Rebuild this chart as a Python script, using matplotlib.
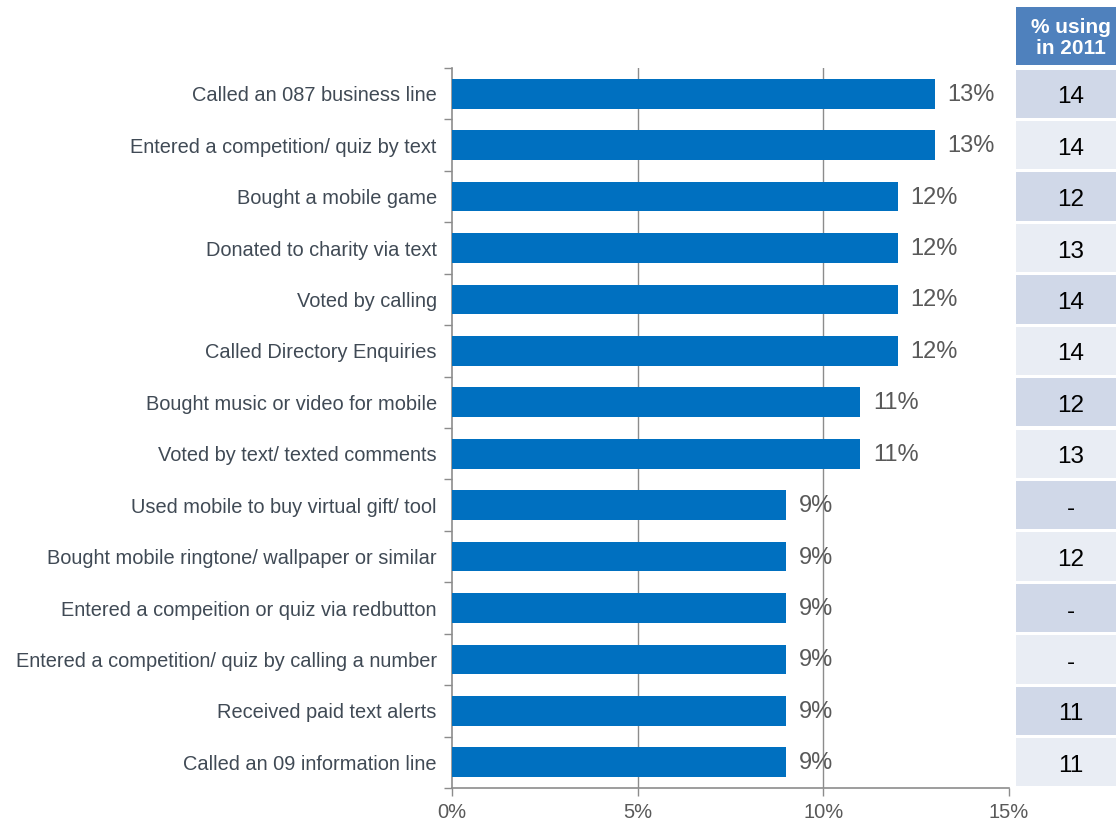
import numpy as np
import matplotlib.pyplot as plt
from matplotlib.patches import Rectangle

plt.rcParams['font.family'] = ['Liberation Sans', 'DejaVu Sans']

categories = [
    'Called an 087 business line',
    'Entered a competition/ quiz by text',
    'Bought a mobile game',
    'Donated to charity via text',
    'Voted by calling',
    'Called Directory Enquiries',
    'Bought music or video for mobile',
    'Voted by text/ texted comments',
    'Used mobile to buy virtual gift/ tool',
    'Bought mobile ringtone/ wallpaper or similar',
    'Entered a compeition or quiz via redbutton',
    'Entered a competition/ quiz by calling a number',
    'Received paid text alerts',
    'Called an 09 information line',
]
pct_2012 = [13, 13, 12, 12, 12, 12, 11, 11, 9, 9, 9, 9, 9, 9]
pct_2011 = ['14', '14', '12', '13', '14', '14', '12', '13', '-', '12', '-', '-', '11', '11']
x_ticks = [0, 5, 10, 15]

bar_color = '#0070c0'
axis_gray = '#8c8c8c'
text_gray = '#404a55'

fig = plt.figure(figsize=(11.16, 8.22), dpi=100)
W, H = 1116, 822
top_px, bottom_px = 68, 788
ax = fig.add_axes([452 / W, 1 - bottom_px / H, (1009 - 452) / W, (bottom_px - top_px) / H])

n = len(categories)
y = np.arange(n)
ax.barh(y, pct_2012, height=0.58, color=bar_color, zorder=3)
for yi, v in zip(y, pct_2012):
    ax.text(v + 0.35, yi + 0.02, f'{v}%', va='center', ha='left', fontsize=17, color='#595959')

ax.set_xlim(0, 15)
ax.set_ylim(n - 0.5, -0.5)
ax.set_xticks(x_ticks)
ax.set_xticklabels([f'{t}%' for t in x_ticks], fontsize=14.5, color='#595959')
# inner vertical gridlines only
for t in x_ticks[1:-1]:
    ax.axvline(t, color=axis_gray, linewidth=1, zorder=0)

ax.set_yticks(y)
ax.set_yticklabels(categories, fontsize=14.4, color=text_gray)
ax.tick_params(axis='y', which='major', length=0, pad=11)
ax.set_yticks(np.arange(-0.5, n, 1), minor=True)
ax.tick_params(axis='y', which='minor', length=6, color=axis_gray, width=1)
ax.tick_params(axis='x', length=6, color=axis_gray, width=1, pad=5)

for side in ['top', 'right']:
    ax.spines[side].set_visible(False)
for side in ['left', 'bottom']:
    ax.spines[side].set_color(axis_gray)
    ax.spines[side].set_linewidth(1.2)

# side table with the 2011 figures
tab = fig.add_axes([1016 / W, 1 - bottom_px / H, (W - 1016) / W, (bottom_px - top_px) / H])
tab.set_xlim(0, 1)
tab.set_ylim(n - 0.5, -0.5)
tab.axis('off')
gap = 0.06
for i, val in enumerate(pct_2011):
    fc = '#d0d8e8' if i % 2 == 0 else '#e9edf4'
    tab.add_patch(Rectangle((0, i - 0.5 + gap / 2), 1, 1 - gap, facecolor=fc, edgecolor='none'))
    tab.text(0.55, i + 0.07, val, ha='center', va='center', fontsize=17.5, color='black')

fig.patches.append(Rectangle((1016 / W, 1 - 65 / H), (W - 1016) / W, 58 / H,
                             transform=fig.transFigure, facecolor='#4f81bd', edgecolor='none'))
fig.text(1071 / W, 1 - 38 / H, '% using\nin 2011', ha='center', va='center',
         fontsize=15, fontweight='bold', color='white', linespacing=1.1)

fig.savefig('out.png', dpi=100)
